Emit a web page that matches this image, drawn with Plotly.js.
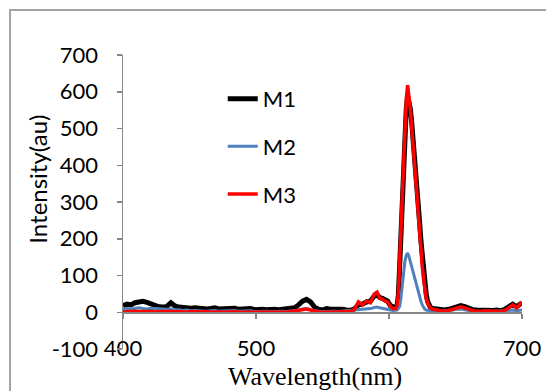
<!DOCTYPE html>
<html>
<head>
<meta charset="utf-8">
<script src="https://cdn.plot.ly/plotly-3.0.1.min.js"></script>
<style>
html,body{margin:0;padding:0;background:#fff;overflow:hidden;}
#wrap{position:relative;width:546px;height:391px;}
#chart{position:absolute;left:0;top:0;width:546px;height:391px;}
#frame{position:absolute;left:9px;top:9px;width:700px;height:600px;border-left:2px solid #a3a3a3;border-top:2px solid #a3a3a3;pointer-events:none;}
</style>
</head>
<body>
<div id="wrap"><div id="chart"></div><div id="frame"></div></div>
<script>
// Wavelength (nm)
var wavelength = [
  400,403,406,409,412,415,418,421,424,427,
  430,433,436,439,442,445,448,451,454,457,
  460,463,466,469,472,475,478,481,484,487,
  490,493,496,499,502,505,508,511,514,517,
  520,523,526,529,532,535,538,541,544,547,
  550,553,556,559,562,565,568,571,574,577,
  580,583,586,589,
  591,593,595,597,599,601,603,605,
  606,607,608,609,610,611,612,613,614,615,616,617,618,619,620,621,622,623,624,625,626,627,628,629,630,631,
  633,636,639,642,645,648,651,654,657,660,663,666,669,672,675,678,681,684,687,690,693,696,699,700
];
var m1 = [
  18,22,20,26,28,30,27,22,18,15,
  14,16,26,17,14,12,13,11,12,10,
  11,9,10,12,9,10,8,9,11,8,
  9,8,10,7,9,8,7,9,8,7,
  8,7,9,12,20,30,35,28,14,8,
  6,10,8,9,7,8,6,5,9,20,
  22,28,30,45,
  48,40,38,32,30,18,14,12,
  16,45,125,225,320,410,495,555,588,575,555,520,480,440,395,350,300,245,195,150,110,75,48,30,20,14,
  10,8,7,6,8,12,16,18,15,10,7,6,5,6,4,5,6,4,8,14,22,15,24,26
];
var m2 = [
  8,10,9,11,12,10,9,11,10,8,
  7,8,9,6,7,5,6,4,5,4,
  5,3,4,5,3,4,3,4,5,3,
  4,3,4,2,3,4,3,2,3,4,
  3,2,3,4,6,9,10,7,4,3,
  2,3,2,3,2,3,2,3,4,6,
  8,9,10,13,
  14,12,10,9,8,6,5,5,
  6,10,16,40,80,115,140,155,161,152,138,122,107,92,78,64,53,42,30,20,12,8,6,5,4,4,
  3,2,3,2,3,6,8,9,7,4,3,2,3,2,3,2,3,2,3,4,6,4,5,6
];
var m3 = [
  1,2,1,3,2,1,2,3,1,2,
  1,2,3,1,2,1,0,2,1,0,
  1,2,0,1,2,1,0,1,2,0,
  1,2,1,0,1,2,1,0,1,2,
  1,0,2,3,5,8,9,6,3,1,
  0,1,2,1,0,2,1,3,8,28,
  20,30,26,50,
  55,38,36,30,28,16,10,10,
  18,50,140,240,340,430,520,580,618,590,555,505,450,400,355,320,270,215,165,125,90,60,38,24,16,12,
  8,5,4,3,5,8,12,15,12,7,4,3,2,4,3,2,3,2,5,12,20,12,24,28
];
var seriesNames = ['M1','M2','M3'];
var seriesColors = ['#000000','#4F81BD','#FF0000'];
var seriesWidths = [5,3,3.5];
var seriesData = [m1,m2,m3];
var xTicks = [400,500,600,700];
var yTicks = [-100,0,100,200,300,400,500,600,700];
var yTickText = ['-100','0','100','200','300','400','500','600','700'];

var traces = seriesData.map(function(d,i){
  return {
    x: wavelength, y: d, type:'scatter', mode:'lines', name: seriesNames[i],
    legendgroup: seriesNames[i],
    line:{color: seriesColors[i], width: seriesWidths[i]}
  };
});

var axisGray = '#868686';
var layout = {
  width:546, height:391,
  margin:{l:123, r:24, t:55, b:42, pad:0},
  paper_bgcolor:'#ffffff', plot_bgcolor:'#ffffff',
  showlegend:true,
  legend:{x:0.25, y:0.922, xanchor:'left', yanchor:'top', bgcolor:'rgba(0,0,0,0)',
          font:{family:'Lato, sans-serif', size:22, color:'#000'}, tracegroupgap:16, itemwidth:30},
  xaxis:{range:[400,700], tickvals:xTicks, anchor:'free', position:0.125,
         showline:true, linecolor:axisGray, linewidth:1.5, ticks:'outside', ticklen:5, tickcolor:axisGray, tickwidth:1.5,
         showgrid:false, zeroline:false, ticklabelstandoff:11,
         tickfont:{family:'Lato, sans-serif', size:22, color:'#000'}},
  yaxis:{range:[-100,700], tickvals:yTicks, ticktext:yTickText, showline:true, linecolor:axisGray, linewidth:1.5,
         ticks:'outside', ticklen:5, tickcolor:axisGray, tickwidth:1.5, showgrid:false, zeroline:false,
         ticklabelstandoff:14,
         tickfont:{family:'Lato, sans-serif', size:22, color:'#000'}},
  annotations:[
    {text:'Wavelength(nm)', xref:'paper', yref:'paper', x:0.481, y:-0.095, xanchor:'center', yanchor:'middle',
     showarrow:false, font:{family:'Liberation Serif, serif', size:26, color:'#000'}},
    {text:'Intensity(au)', xref:'paper', yref:'paper', x:-0.213, y:0.576, xanchor:'center', yanchor:'middle',
     textangle:-90, showarrow:false, font:{family:'Lato, sans-serif', size:24, color:'#000'}}
  ]
};
Plotly.newPlot('chart', traces, layout, {displayModeBar:false, staticPlot:true});
</script>
</body>
</html>
